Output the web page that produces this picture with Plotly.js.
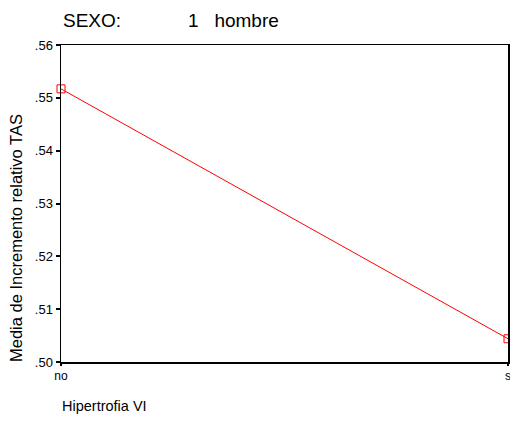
<!DOCTYPE html>
<html><head><meta charset="utf-8">
<script src="https://cdn.plot.ly/plotly-3.0.1.min.js"></script>
<style>body{margin:0;background:#fff}#c{width:510px;height:425px}</style>
</head><body><div id="c"></div>
<script>
const categories = ["no", "s"];
const values = [0.5517, 0.5044];
const yTickVals = [0.50, 0.51, 0.52, 0.53, 0.54, 0.55, 0.56];
const yTickText = [".50", ".51", ".52", ".53", ".54", ".55", ".56"];
const titleLeft = "SEXO:";
const titleRight = "1   hombre";
const xTitle = "Hipertrofia VI";
const yTitle = "Media de Incremento relativo TAS";

const font = "Liberation Sans, Arial, sans-serif";
const L = 61, R = 508, T = 45, B = 362;
const px = v => (v - L) / (R - L);
const py = v => (B - v) / (B - T);
Plotly.newPlot("c", [{
  x: categories, y: values, type: "scatter", mode: "lines+markers",
  line: {color: "#ff0000", width: 1},
  marker: {symbol: "square-open", size: 8, color: "#ff0000", line: {width: 1}},
  cliponaxis: false, showlegend: false
}], {
  width: 510, height: 425,
  margin: {l: L, r: 510 - R, t: T, b: 425 - B},
  paper_bgcolor: "#fff", plot_bgcolor: "#fff",
  font: {family: font, color: "#000"},
  xaxis: {type: "category", range: [0, 1], showgrid: false, zeroline: false,
    showline: true, linecolor: "#000", linewidth: 1.5, mirror: true,
    ticks: "outside", ticklen: 2, tickwidth: 2, tickcolor: "#000",
    tickfont: {size: 12, family: font, color: "#000"}},
  yaxis: {range: [0.50, 0.56], tickvals: yTickVals, ticktext: yTickText,
    showgrid: false, zeroline: false, showline: true, linecolor: "#000", linewidth: 1.5, mirror: true,
    ticks: "outside", ticklen: 4, tickwidth: 2, tickcolor: "#000",
    tickfont: {size: 13, family: font, color: "#000"}},
  annotations: [
    {text: titleLeft, xref: "paper", yref: "paper", x: px(61), y: py(20), xanchor: "left", yanchor: "middle", showarrow: false, font: {size: 19, family: font}},
    {text: titleRight, xref: "paper", yref: "paper", x: px(186), y: py(20), xanchor: "left", yanchor: "middle", showarrow: false, font: {size: 19, family: font}},
    {text: xTitle, xref: "paper", yref: "paper", x: px(60), y: py(406), xanchor: "left", yanchor: "middle", showarrow: false, font: {size: 14.5, family: font}},
    {text: yTitle, xref: "paper", yref: "paper", x: px(16), y: py(238), xanchor: "center", yanchor: "middle", textangle: -90, showarrow: false, font: {size: 16.5, family: font}}
  ]
}, {displayModeBar: false, staticPlot: true});
</script></body></html>
